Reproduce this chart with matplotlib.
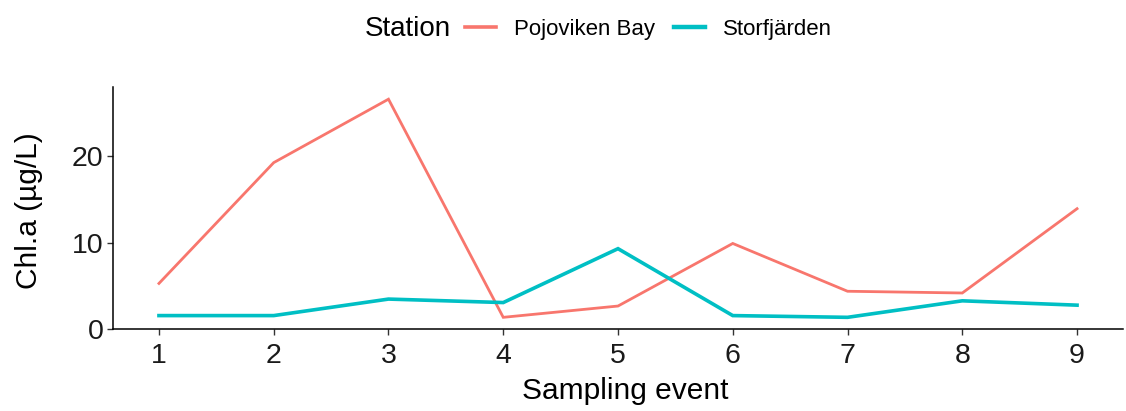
import matplotlib
matplotlib.use("Agg")
import matplotlib.pyplot as plt
from matplotlib.lines import Line2D

plt.rcParams['font.family'] = ['Liberation Sans', 'DejaVu Sans']

events = [1, 2, 3, 4, 5, 6, 7, 8, 9]
stations = ["Pojoviken Bay", "Storfjärden"]
pojoviken = [5.3, 19.2, 26.5, 1.4, 2.7, 9.9, 4.4, 4.2, 13.9]
storfjarden = [1.6, 1.6, 3.5, 3.1, 9.3, 1.6, 1.4, 3.3, 2.8]
y_ticks = [0, 10, 20]

colors = {"Pojoviken Bay": "#F8766D", "Storfjärden": "#00BFC4"}
widths = {"Pojoviken Bay": 2.0, "Storfjärden": 2.6}
series = {"Pojoviken Bay": pojoviken, "Storfjärden": storfjarden}

fig = plt.figure(figsize=(11.26, 4.11), dpi=100)
ax = fig.add_axes([0.1004, 0.1983, 0.8969, 0.5900])

for name in stations:
    ax.plot(events, series[name], color=colors[name], lw=widths[name],
            solid_joinstyle="miter")

ax.set_xlim(0.6, 9.4)
ax.set_ylim(0, 27.9)
ax.set_xticks(events)
ax.set_yticks(y_ticks)
ax.tick_params(axis="both", length=4, width=1, color="#333333",
               labelsize=20.5, labelcolor="#1a1a1a")
ax.tick_params(axis="x", pad=6)
ax.tick_params(axis="y", pad=3)
for side in ("top", "right"):
    ax.spines[side].set_visible(False)
for side in ("left", "bottom"):
    ax.spines[side].set_linewidth(1.1)
    ax.spines[side].set_color("black")

ax.set_xlabel("Sampling event", fontsize=21.5, color="black")
ax.set_ylabel("Chl.a (µg/L)", fontsize=21.5, color="black")
ax.xaxis.set_label_coords(0.507, -0.197)
ax.yaxis.set_label_coords(-0.0693, 0.49)

# legend row along the top
fig.text(365 / 1126, 1 - 29 / 411, "Station", fontsize=20,
         ha="left", va="center", color="black")
handles = [Line2D([], [], color=colors[n], lw=widths[n] + 0.6) for n in stations]
leg = fig.legend(handles, stations, ncol=2, frameon=False, fontsize=16,
                 loc="center left", bbox_to_anchor=(465 / 1126, 1 - 29 / 411),
                 handlelength=1.4, handletextpad=0.8, columnspacing=0.85,
                 borderaxespad=0, borderpad=0)

fig.savefig("out.png", dpi=100)
